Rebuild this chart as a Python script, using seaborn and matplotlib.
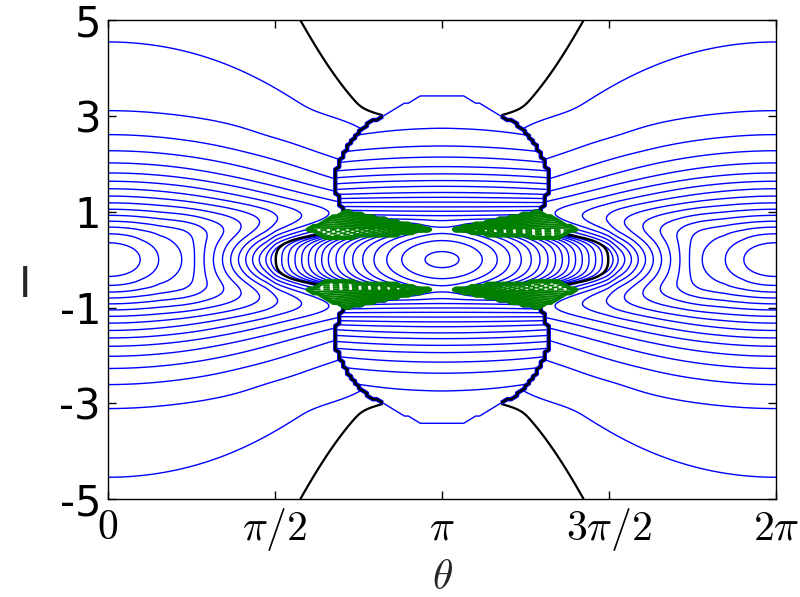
import numpy as np
import matplotlib
matplotlib.use("Agg")
import matplotlib.pyplot as plt
from matplotlib.path import Path
import seaborn as sns

# values
# blue curves: I where each one meets the left edge (theta = 0)
edge_I = [0.35, 0.55, 0.68, 0.80, 0.92, 1.05, 1.18, 1.32, 1.48, 1.63, 1.80, 2.01, 2.26, 2.59, 3.09, 4.54]
# theta where the curves cut I = 0 between 0 and pi (the black one is at 1.578)
axis_theta = [0.313, 0.486, 0.706, 0.821, 0.909, 0.997, 1.082, 1.159, 1.232, 1.300,
              1.364, 1.427, 1.489, 1.536, 1.578, 1.634, 1.696, 1.759, 1.822, 1.885,
              1.948, 2.010, 2.073, 2.145, 2.220, 2.302, 2.396, 2.502, 2.622, 2.763, 2.982]
black_theta = 1.578
# flat curves inside the central bubble, I at theta = pi
bubble_I = [0.77, 0.84, 0.92, 1.01, 1.10, 1.20, 1.30, 1.40, 1.53, 1.65, 1.79, 1.94, 2.14, 2.37, 2.74]
bubble_top = 3.40
saddle_I = 0.66
# bubble outline: half width in theta against I
bub_I = [1.01, 1.28, 1.63, 1.98, 2.45, 2.84, 3.09, 3.40]
bub_w = [0.93, 0.98, 1.00, 0.98, 0.87, 0.695, 0.49, 0.21]
# upper left green wedge (theta, I), the other three are mirror images
wedge = [(1.885, 0.63), (2.23, 1.01), (3.045, 0.63), (2.70, 0.52), (2.07, 0.45)]
black_top = 16.3

sns.set_style("ticks", {"axes.edgecolor": "black", "xtick.color": "black",
                        "ytick.color": "black", "text.color": "black"})
plt.rcParams["font.family"] = ["DejaVu Sans"]
plt.rcParams["mathtext.fontset"] = "cm"

edge_I2 = np.array(edge_I) ** 2
edge_lev = np.arange(1, len(edge_I) + 1)
axis_u = 1 - np.cos(np.array(axis_theta))
axis_lev = np.arange(1, len(axis_theta) + 1)
bub_nodes = np.r_[saddle_I, bubble_I, bubble_top]
bub_vals = np.arange(0, len(bubble_I) + 2)

# smooth K(I) through the edge crossings, saturating above the last two
a_line = np.linspace(0, 5.5, 1101)
k_low = np.interp(a_line ** 2, np.r_[0, edge_I2[:-1]], np.r_[0, edge_lev[:-1]])
a_top = 1.0 / (1 - np.exp(-(edge_I[-1] - edge_I[-2])))
k_top = edge_lev[-2] + a_top * (1 - np.exp(-(a_line - edge_I[-2])))
k_raw = np.where(a_line > edge_I[-2], k_top, k_low)
pad = 60
k_pad = np.r_[k_raw[pad:0:-1], k_raw, k_raw[-1] + (k_raw[-1] - k_raw[-2]) * np.arange(1, pad + 1)]
kern = np.exp(-0.5 * (np.arange(-pad, pad + 1) * (a_line[1] / 0.09)) ** 2)
k_line = np.convolve(k_pad, kern / kern.sum(), "valid")


def fold(th, ii):
    u = np.minimum(th, 2 * np.pi - th)
    return u, np.pi - u, np.abs(ii)


def outer_field(u, a):
    k = np.interp(a, a_line, k_line)
    v = np.interp(1 - np.cos(u), np.r_[0, axis_u], np.r_[0, axis_lev])
    m = np.exp(-(a / 0.7) ** 2)
    g = 19.6 * np.exp(-a / 1.2) * (1 - np.exp(-(a / 1.2) ** 4))
    return k + m * v + g * (1 - np.cos(u)) / 2


def island_c(ph, a):
    den = 1 - (a / saddle_I) ** 4
    with np.errstate(divide="ignore", invalid="ignore"):
        c = np.sqrt(ph ** 2 / den + a ** 2 / 1.1)
    return np.where(den > 0, c, np.inf)


def in_bubble(ph, a):
    wdt = np.interp(a, bub_I, bub_w)
    bot = np.interp(ph, [0, 0.097, 0.91], [saddle_I, 0.63, 1.01])
    return (a >= bot) & (ph < wdt) & (a <= bubble_top)


wedge_path = Path(wedge + [wedge[0]])


def in_wedge(u, a):
    pts = np.column_stack([u.ravel(), a.ravel()])
    return wedge_path.contains_points(pts).reshape(u.shape)


th = np.linspace(0, 2 * np.pi, 560)
ii = np.linspace(-5, 5, 500)
TH, II = np.meshgrid(th, ii)
U, PH, A = fold(TH, II)

wed = in_wedge(U, A)
bub = in_bubble(PH, A) & ~wed
C = island_c(PH, A)
black_c = np.pi - black_theta
isl = (C < black_c) & ~bub & ~wed

H_out = np.where(bub | wed | isl, np.nan, outer_field(U, A))
H_isl = np.where((A < saddle_I) & ~bub & ~wed, C, np.nan)
H_bub = (np.interp(A, bub_nodes, bub_vals)
         + 0.6 * np.tanh((A - 1.15) / 0.25) * PH ** 2
         + 0.9 * np.exp(-(PH / 0.22) ** 2) * np.exp(-((A - 0.7) / 0.12) ** 2))
H_bub = np.where(bub, H_bub, np.nan)
ray = np.degrees(np.arctan2((A - 0.63) * 0.45, 3.045 - U))
ray = np.where(wed, ray, np.nan)

# coarse grid for the ragged outlines
thc = np.linspace(0, 2 * np.pi, 170)
iic = np.linspace(-5, 5, 200)
THc, IIc = np.meshgrid(thc, iic)
Uc, PHc, Ac = fold(THc, IIc)
bub_c = in_bubble(PHc, Ac).astype(float)
wed_c = in_wedge(Uc, Ac).astype(float)

fig = plt.figure(figsize=(8, 5.97), dpi=100)
ax = fig.add_axes([0.135, 0.164, 0.835, 0.8023])

blue = "#0000ff"
green = "#007f00"
ax.contour(TH, II, H_out, levels=edge_lev, colors=blue, linewidths=1.0)
isl_lev = sorted(np.pi - t for t in axis_theta if t > black_theta)
ax.contour(TH, II, H_isl, levels=isl_lev, colors=blue, linewidths=1.0)
ax.contour(TH, II, H_bub, levels=np.arange(1, len(bubble_I) + 1), colors=blue, linewidths=1.0)

# black separatrix pieces
ax.contour(TH, II, np.where(wed | bub, np.nan, C), levels=[black_c], colors="k", linewidths=1.8)
ax.contour(TH, II, np.where(np.abs(II) > 2.0, H_out, np.nan), levels=[black_top],
           colors="k", linewidths=1.6)

# bubble outline: thin blue cap, thick blue/black sides
cap = np.where(Ac > 2.9, bub_c, np.nan)
ax.contour(THc, IIc, cap, levels=[0.5], colors=blue, linewidths=1.0)
side = np.where((Ac < 3.02) & (PHc > 0.45), bub_c, np.nan)
ax.contour(THc, IIc, side, levels=[0.5], colors=blue, linewidths=3.2)
ax.contour(THc, IIc, side, levels=[0.5], colors="k", linewidths=1.8)

# green wedges
ax.contour(TH, II, ray, levels=np.linspace(-7.8, 11.5, 19), colors=green, linewidths=1.3)
ax.contour(THc, IIc, wed_c, levels=[0.5], colors=green, linewidths=3.0)

ax.set_xlim(0, 2 * np.pi)
ax.set_ylim(-5, 5)
ax.set_xticks([0, np.pi / 2, np.pi, 3 * np.pi / 2, 2 * np.pi])
ax.set_xticklabels([r"$0$", r"$\pi/2$", r"$\pi$", r"$3\pi/2$", r"$2\pi$"])
ax.set_yticks([-5, -3, -1, 1, 3, 5])
ax.set_yticklabels(["-5", "-3", "-1", "1", "3", "5"])
ax.tick_params(direction="in", top=True, right=True, length=6, width=1,
               labelsize=30, pad=5)
for s in ax.spines.values():
    s.set_linewidth(1.0)
    s.set_color("black")
ax.set_xlabel(r"$\theta$", fontsize=30, labelpad=2)
ax.set_ylabel("I", fontsize=30, rotation=0, ha="center", va="center")
ax.yaxis.set_label_coords(-0.124, 0.447)

fig.savefig("out.png", dpi=100)
